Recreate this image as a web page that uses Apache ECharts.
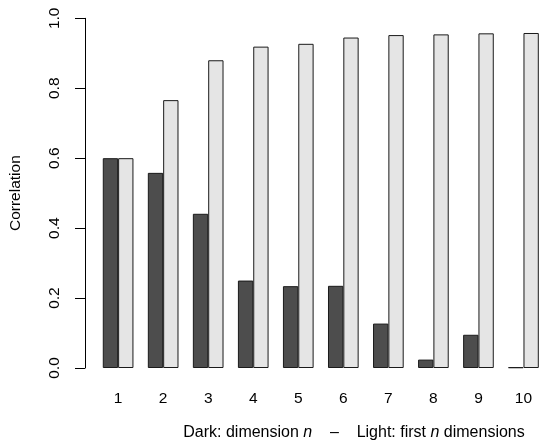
<!DOCTYPE html>
<html>
<head>
<meta charset="utf-8">
<script src="https://cdn.jsdelivr.net/npm/echarts@6/dist/echarts.min.js"></script>
<style>
html,body{margin:0;padding:0;background:#fff;}
#c{width:546px;height:448px;}
</style>
</head>
<body>
<div id="c"></div>
<script>
const categories = ['1','2','3','4','5','6','7','8','9','10'];
const darkValues = [0.600, 0.558, 0.441, 0.250, 0.234, 0.235, 0.127, 0.024, 0.095, 0.002];
const lightValues = [0.600, 0.766, 0.880, 0.919, 0.927, 0.945, 0.952, 0.954, 0.957, 0.958];
const yTicks = [0, 0.2, 0.4, 0.6, 0.8, 1.0];

const FONT = '"Liberation Sans", Arial, sans-serif';
const FS = 15.5;
const chart = echarts.init(document.getElementById('c'), null, {renderer: 'canvas'});
chart.setOption({
  animation: false,
  backgroundColor: '#ffffff',
  grid: {left: 93.3, top: 18.3, width: 460, height: 349.7, containLabel: false},
  xAxis: {
    type: 'category',
    data: categories,
    axisLine: {show: false},
    axisTick: {show: false},
    axisLabel: {color: '#000', fontFamily: FONT, fontSize: FS, margin: 23}
  },
  yAxis: {
    type: 'value',
    min: 0, max: 1, interval: 0.2,
    offset: 10.6,
    splitLine: {show: false},
    axisLine: {show: true, lineStyle: {color: '#000', width: 1}},
    axisTick: {show: true, length: 10, lineStyle: {color: '#000'}},
    axisLabel: {
      color: '#000', fontFamily: FONT, fontSize: FS, rotate: 90, margin: 22,
      formatter: v => yTicks.some(t => Math.abs(t - v) < 1e-9) ? v.toFixed(1) : ''
    },
    name: 'Correlation',
    nameLocation: 'middle',
    nameGap: 61,
    nameTextStyle: {color: '#000', fontFamily: FONT, fontSize: FS}
  },
  series: [
    {type: 'bar', data: darkValues, barWidth: 15.33, barGap: '0%',
     itemStyle: {color: '#4d4d4d', borderColor: '#1a1a1a', borderWidth: 1}},
    {type: 'bar', data: lightValues, barWidth: 15.33, barGap: '0%',
     itemStyle: {color: '#e5e5e5', borderColor: '#1a1a1a', borderWidth: 1}}
  ],
  graphic: [{
    type: 'text', x: 354, y: 433,
    style: {
      text: '{a|Dark: dimension }{i|n}{a|    \u2013    Light: first }{i|n}{a| dimensions}',
      align: 'center', verticalAlign: 'middle',
      rich: {
        a: {fontFamily: FONT, fontSize: 16, fill: '#000'},
        i: {fontFamily: FONT, fontSize: 16, fontStyle: 'italic', fill: '#000'}
      }
    }
  }]
});
</script>
</body>
</html>
